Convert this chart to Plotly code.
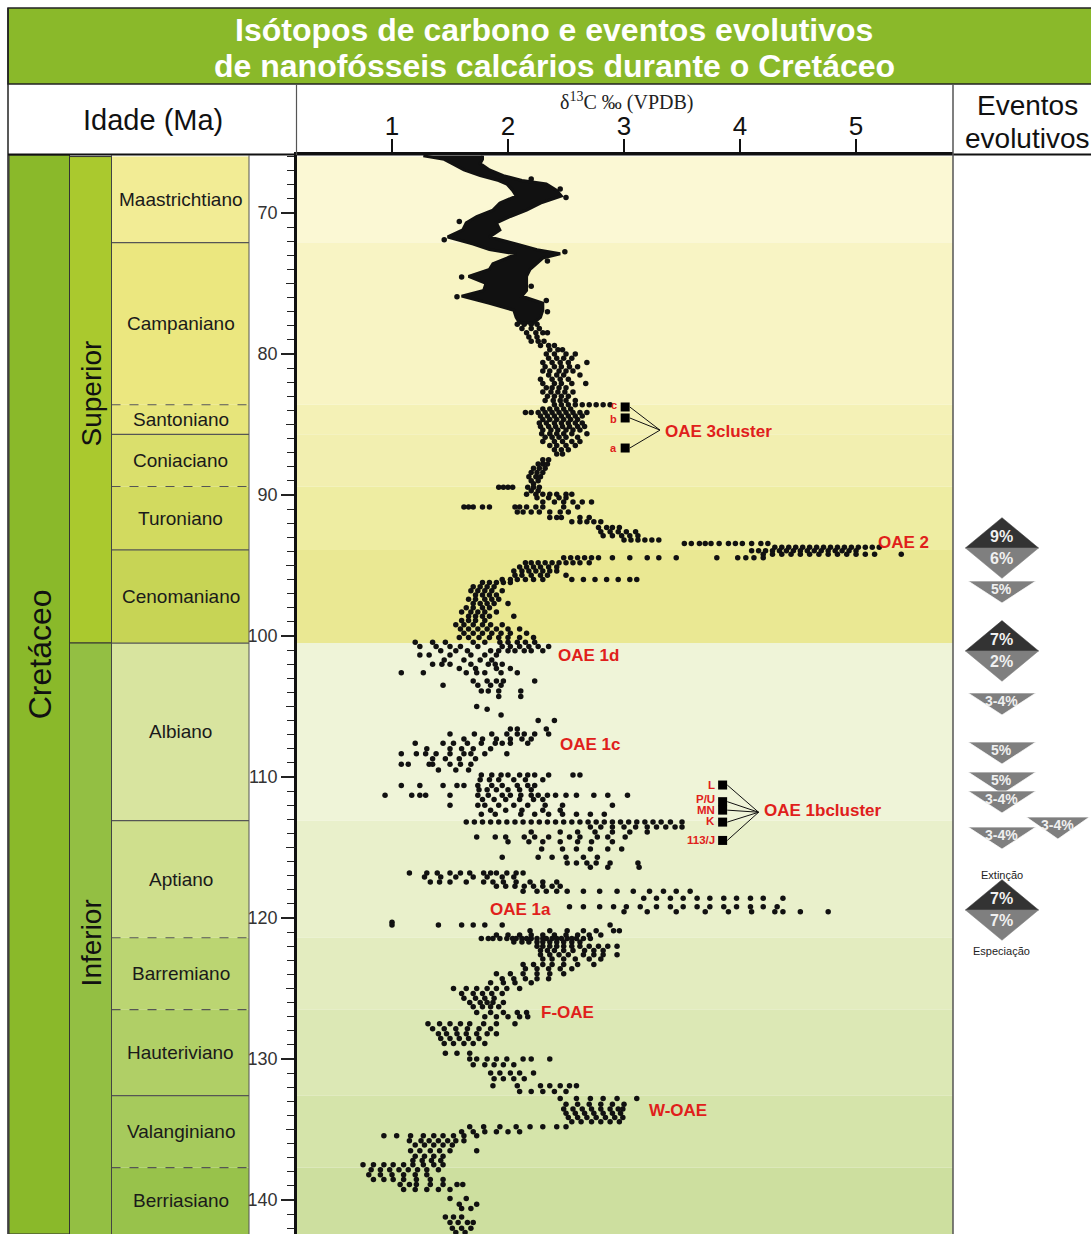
import plotly.graph_objects as go

W, H = 1091, 1234
def PX(x):
    return x / W
def PY(y):
    return 1 - y / H

FONT = "Liberation Sans, Arial, sans-serif"

# ---------------- data ----------------
stage_names = ["Maastrichtiano", "Campaniano", "Santoniano", "Coniaciano", "Turoniano",
               "Cenomaniano", "Albiano", "Aptiano", "Barremiano", "Hauteriviano",
               "Valanginiano", "Berriasiano"]
stage_bounds = [66.0, 72.1, 83.6, 85.7, 89.4, 93.9, 100.5, 113.1, 121.4, 126.5, 132.6, 137.7, 145.0]
boundary_dashed = [False, True, False, True, False, False, False, True, True, False, True]
stage_colors = ["#F2EC95", "#EBE77F", "#E7E57B", "#DADF6C", "#D2DA5F", "#C7D455",
                "#D8E49F", "#CFDF8D", "#BBD572", "#B0CF66", "#A6CA5C", "#98C24B"]
band_colors = ["#FBF8D4", "#F8F4C4", "#F4F1B6", "#F2EFB0", "#EEEDA2", "#EAE893",
               "#EFF4D8", "#E9F0CB", "#E3ECBF", "#DCE8B5", "#D5E4AA", "#CDDF9F"]
subseries_names = ["Superior", "Inferior"]
subseries_bounds = [66.0, 100.5, 145.0]
subseries_colors = ["#AAC92E", "#93BF43"]

age_ticks = [70, 80, 90, 100, 110, 120, 130, 140]
age_mid_ticks = [75, 85, 95, 105, 115, 125, 135]
d13c_ticks = [1, 2, 3, 4, 5]

# dense Maastrichtian-Campanian band (outline)
band_age = [65.95, 66.2, 66.5, 66.95, 67.35, 67.7, 67.95, 68.4, 68.8, 69.3, 69.8, 70.25,
            70.7, 71.2, 71.7, 72.2, 72.6, 72.9, 73.2, 73.6, 74.0, 74.5, 75.0, 75.5,
            75.9, 76.4, 76.9, 77.4, 77.8]
band_left = [1.27, 1.45, 1.52, 1.62, 1.76, 1.92, 1.99, 2.04, 2.07, 1.93, 1.87, 1.73,
             1.64, 1.61, 1.48, 1.70, 1.84, 2.07, 1.99, 1.87, 1.84, 1.66, 1.81, 1.79,
             1.60, 1.84, 2.05, 2.07, 2.10]
band_right = [1.78, 1.78, 1.76, 1.84, 1.96, 2.12, 2.33, 2.42, 2.46, 2.28, 2.16, 2.02,
              1.90, 1.93, 1.84, 2.07, 2.25, 2.45, 2.30, 2.25, 2.19, 2.16, 2.16, 2.16,
              2.12, 2.30, 2.30, 2.28, 2.22]
# scattered dots along the dense band
iso_maastrichtian = [
    (67.6, [2.2]), (68.3, [2.45]), (68.9, [2.5]), (70.6, [1.58]), (71.9, [1.45]),
    (72.75, [2.49]), (73.4, [2.34]), (74.55, [1.6]), (75.2, [2.2]), (75.95, [1.56]),
    (76.2, [2.33]), (77.0, [2.34]),
]

iso_campanian = [
    (77.9, [2.08, 2.14, 2.2, 2.25]), (78.2, [2.12, 2.2, 2.27]), (78.5, [2.16, 2.24, 2.3, 2.34]),
    (78.8, [2.18, 2.25]), (79.1, [2.2, 2.26, 2.31]), (79.4, [2.28, 2.35, 2.4]),
    (79.7, [2.36, 2.43, 2.47]), (80.0, [2.33, 2.4, 2.5, 2.58]), (80.3, [2.35, 2.42, 2.48, 2.55]),
    (80.6, [2.3, 2.38, 2.45, 2.52, 2.68]), (80.9, [2.32, 2.4, 2.46, 2.53, 2.6]),
    (81.2, [2.3, 2.36, 2.44, 2.5, 2.56]), (81.5, [2.35, 2.42, 2.48, 2.62]),
    (81.8, [2.28, 2.38, 2.45, 2.52]), (82.1, [2.3, 2.4, 2.46, 2.55, 2.67]),
    (82.4, [2.33, 2.38, 2.44, 2.5]), (82.7, [2.3, 2.37, 2.43, 2.49, 2.56]),
    (83.0, [2.34, 2.4, 2.46, 2.52]), (83.3, [2.32, 2.39, 2.45, 2.5, 2.58]),
]
iso_santonian = [
    (83.6, [2.4, 2.46, 2.52, 2.58, 2.64, 2.7, 2.76, 2.82, 2.88]),
    (83.9, [2.3, 2.36, 2.42, 2.48, 2.54]),
    (84.15, [2.15, 2.2, 2.26, 2.32, 2.38, 2.44, 2.5, 2.56, 2.62, 2.68]),
    (84.4, [2.28, 2.34, 2.4, 2.46, 2.52, 2.58, 2.64]),
    (84.65, [2.3, 2.36, 2.42, 2.48, 2.54, 2.6]),
    (84.9, [2.27, 2.33, 2.4, 2.46, 2.52, 2.58, 2.64]),
    (85.15, [2.28, 2.35, 2.41, 2.47, 2.53, 2.6, 2.66]),
    (85.4, [2.3, 2.37, 2.43, 2.5, 2.56, 2.62]),
    (85.65, [2.29, 2.36, 2.42, 2.48, 2.55, 2.68]),
    (85.9, [2.32, 2.38, 2.44, 2.5, 2.6]),
    (86.2, [2.3, 2.4, 2.47, 2.55, 2.62]),
    (86.5, [2.36, 2.42, 2.5, 2.58]),
    (86.8, [2.4, 2.46, 2.52]),
    (87.1, [2.42, 2.47]),
]
iso_coniacian = [
    (87.5, [2.3, 2.35]), (87.8, [2.26, 2.3, 2.34]), (88.1, [2.22, 2.27, 2.32]),
    (88.4, [2.2, 2.25, 2.3]), (88.7, [2.18, 2.24, 2.28]), (89.0, [2.2, 2.26]), (89.2, [2.22]),
]
iso_turonian = [
    (89.45, [1.92, 1.96, 2.0, 2.04, 2.17, 2.22, 2.27]),
    (89.7, [2.2, 2.26]),
    (89.95, [2.16, 2.24, 2.3, 2.36, 2.42, 2.5, 2.55]),
    (90.2, [2.25, 2.35, 2.44, 2.5]),
    (90.5, [2.3, 2.4, 2.48, 2.56, 2.64, 2.72]),
    (90.85, [1.62, 1.66, 1.7, 1.78, 1.84, 2.06, 2.1, 2.16, 2.24, 2.3, 2.48, 2.6]),
    (91.2, [2.08, 2.13, 2.2, 2.27, 2.36, 2.45, 2.52]),
    (91.6, [2.36, 2.42, 2.46, 2.62, 2.7]),
    (91.9, [2.55, 2.62, 2.68, 2.74, 2.8]),
    (92.3, [2.78, 2.85, 2.9, 2.96]),
    (92.6, [2.8, 2.88, 2.95, 3.02, 3.1]),
    (92.9, [2.82, 2.9, 2.98, 3.05, 3.12]),
    (93.2, [3.0, 3.06, 3.12, 3.18, 3.24, 3.3]),
    (93.45, [3.52, 3.58, 3.65, 3.7, 3.75, 3.82, 3.9, 3.96, 4.02, 4.1, 4.18, 4.24]),
    (93.7, [4.3, 4.36, 4.42, 4.48, 4.54, 4.6, 4.66, 4.72, 4.78, 4.84, 4.9, 4.96, 5.02, 5.08, 5.14, 5.2]),
]
iso_cenomanian = [
    (93.95, [4.1, 4.16, 4.22, 4.28, 4.34, 4.4, 4.46, 4.52, 4.58, 4.64, 4.7, 4.76, 4.82, 4.88, 4.94, 5.0]),
    (94.2, [4.2, 4.28, 4.36, 4.44, 4.52, 4.6, 4.68, 4.76, 4.84, 4.92, 5.0, 5.08, 5.16, 5.39]),
    (94.45, [2.48, 2.54, 2.6, 2.66, 2.72, 2.78, 2.9, 3.05, 3.2, 3.3, 3.45, 3.8, 3.98, 4.05, 4.12, 4.2]),
    (94.8, [2.15, 2.2, 2.26, 2.32, 2.38, 2.44, 2.5, 2.56, 2.62, 2.7]),
    (95.1, [2.1, 2.16, 2.22, 2.28, 2.35, 2.42]),
    (95.4, [2.05, 2.12, 2.18, 2.24, 2.3, 2.36, 2.42]),
    (95.7, [2.06, 2.12, 2.2, 2.28, 2.34, 2.5]),
    (96.0, [1.95, 2.02, 2.08, 2.15, 2.22, 2.3, 2.55, 2.65, 2.75, 2.85, 2.95, 3.05, 3.11]),
    (96.2, [1.78, 1.84, 1.9, 1.96, 2.02]),
    (96.5, [1.7, 1.76, 1.82, 1.88]),
    (96.8, [1.68, 1.74, 1.8, 1.86, 1.95]),
    (97.1, [1.72, 1.78, 1.84, 1.9]),
    (97.4, [1.66, 1.72, 1.8, 1.86, 1.92]),
    (97.7, [1.7, 1.76, 1.82, 1.88, 2.0]),
    (98.0, [1.64, 1.7, 1.78, 1.84]),
    (98.3, [1.6, 1.68, 1.74, 1.8, 1.9]),
    (98.6, [1.66, 1.72, 1.78, 1.84, 2.05]),
    (98.9, [1.6, 1.66, 1.72, 1.8]),
    (99.2, [1.55, 1.62, 1.7, 1.78, 1.85, 1.95]),
    (99.5, [1.59, 1.66, 1.74, 1.82, 1.9, 2.0, 2.1]),
    (99.8, [1.62, 1.7, 1.78, 1.86, 1.94, 2.02, 2.16]),
    (100.1, [1.58, 1.66, 1.75, 1.84, 1.92, 2.0, 2.1, 2.22]),
]
iso_albian = [
    (100.45, [1.2, 1.35, 1.46, 1.7, 1.8, 1.93, 2.0, 2.08, 2.15, 2.23]),
    (100.75, [1.24, 1.38, 1.5, 1.59, 1.74, 1.95, 2.02, 2.1, 2.18, 2.26, 2.35]),
    (101.05, [1.42, 1.55, 1.65, 1.85, 1.92, 2.0, 2.06, 2.14, 2.2, 2.3]),
    (101.35, [1.24, 1.32, 1.5, 1.68, 1.8, 1.9]),
    (101.7, [1.45, 1.62, 1.76, 1.86]),
    (102.0, [1.35, 1.43, 1.5, 1.68, 1.83, 1.89, 1.95]),
    (102.3, [1.58, 1.72, 1.9, 2.02]),
    (102.6, [1.08, 1.27, 1.64, 1.73, 1.8, 1.94, 2.08]),
    (103.2, [1.7, 1.82, 1.9, 1.96, 2.23]),
    (103.5, [1.44, 1.74, 1.85, 1.94]),
    (103.9, [1.77, 1.83, 1.92, 2.11]),
    (104.3, [1.92, 2.11]),
    (105.0, [1.73]), (105.2, [1.82]), (105.6, [1.94]),
    (106.0, [2.26, 2.4]),
    (106.6, [2.02, 2.08, 2.33]),
    (106.95, [1.5, 1.71, 1.86, 1.99, 2.08, 2.14, 2.23, 2.35]),
    (107.3, [1.62, 1.78, 1.9, 2.02, 2.12, 2.2]),
    (107.6, [1.2, 1.44, 1.53, 1.65, 1.77, 1.89, 1.95, 2.02, 2.17]),
    (108.0, [1.3, 1.5, 1.6, 1.7, 1.85]),
    (108.35, [1.08, 1.21, 1.29, 1.38, 1.5, 1.62, 1.68, 1.8, 1.99]),
    (108.7, [1.35, 1.46, 1.58, 1.72]),
    (109.1, [1.08, 1.14, 1.32, 1.35, 1.5, 1.59, 1.68]),
    (109.5, [1.4, 1.55, 1.66]),
    (109.85, [1.77, 1.86, 1.94, 2.0, 2.1, 2.17, 2.23, 2.35, 2.56, 2.62]),
    (110.2, [1.76, 1.84, 1.92, 2.05, 2.15, 2.3]),
    (110.6, [1.08, 1.24, 1.44, 1.56, 1.62, 1.74, 1.86, 1.95, 2.08, 2.17, 2.23]),
    (110.9, [1.75, 1.82, 1.9, 2.0, 2.1, 2.2]),
    (111.3, [0.94, 1.17, 1.24, 1.29, 1.5, 1.74, 1.83, 1.95, 2.02, 2.11, 2.2, 2.26, 2.34,
             2.41, 2.5, 2.59, 2.74, 2.86, 3.03]),
    (111.6, [1.78, 1.88, 1.98, 2.1, 2.22, 2.3]),
    (112.0, [1.5, 1.74, 1.8, 1.92, 2.05, 2.17, 2.32, 2.47, 2.9]),
    (112.35, [1.85, 1.98, 2.12, 2.3, 2.45]),
    (112.65, [1.77, 1.89, 2.11, 2.23, 2.35, 2.47, 2.59, 2.71, 2.83]),
]
iso_aptian = [
    (113.2, [1.64, 1.71, 1.78, 1.85, 1.92, 1.99, 2.06, 2.13, 2.2, 2.27, 2.34, 2.41, 2.48, 2.55,
             2.62, 2.69, 2.76, 2.83, 2.9, 2.97, 3.04, 3.11, 3.18, 3.25, 3.32, 3.4, 3.5]),
    (113.55, [2.71, 2.8, 2.9, 3.0, 3.1, 3.2, 3.28, 3.36, 3.44, 3.5]),
    (113.9, [2.2, 2.45, 2.6, 2.75, 2.9, 3.05, 3.2]),
    (114.25, [1.73, 1.89, 1.98, 2.14, 2.23, 2.35, 2.53, 2.62, 2.77, 2.86, 3.01]),
    (114.6, [2.0, 2.18, 2.3, 2.45, 2.6, 2.72, 2.9]),
    (115.1, [2.29, 2.47, 2.59, 2.71, 2.86, 2.98]),
    (115.7, [1.95, 2.26, 2.38, 2.5, 2.65, 2.77]),
    (116.1, [2.51, 2.59, 2.68, 2.76, 2.88, 3.12]),
    (116.4, [2.71, 2.86, 3.13]),
    (116.8, [1.15, 1.3, 1.39, 1.5, 1.59, 1.67, 1.79, 1.85, 1.9, 1.99, 2.07, 2.13]),
    (117.1, [1.28, 1.42, 1.55, 1.7, 1.82, 1.95, 2.05]),
    (117.45, [1.33, 1.41, 1.5, 1.64, 1.79, 1.87, 1.96, 2.07, 2.19, 2.3, 2.42]),
    (117.75, [1.9, 1.98, 2.06, 2.14, 2.22, 2.3, 2.38, 2.45]),
    (118.1, [2.13, 2.25, 2.33, 2.42, 2.51, 2.65, 2.79, 2.94, 3.08, 3.22, 3.34, 3.45, 3.57]),
    (118.6, [3.17, 3.28, 3.4, 3.51, 3.63, 3.74, 3.86, 3.97, 4.09, 4.2, 4.37]),
    (119.2, [2.53, 2.65, 2.79, 2.91, 3.02, 3.14, 3.28, 3.4, 3.51, 3.63, 3.74, 3.86, 3.97,
             4.09, 4.2, 4.32]),
    (119.55, [3.0, 3.2, 3.45, 3.7, 3.9, 4.1, 4.3, 4.37, 4.52, 4.76]),
    (120.3, [1.0]),
    (120.5, [1.0, 1.4, 1.6, 1.7, 1.8, 1.95, 2.88]),
    (120.9, [2.19, 2.36, 2.51, 2.65, 2.76, 2.91, 2.96]),
    (121.2, [1.9, 2.0, 2.1, 2.2, 2.3, 2.4, 2.5, 2.6, 2.7, 2.8]),
]
iso_barremian = [
    (121.45, [1.77, 1.83, 1.87, 1.93, 1.99, 2.04, 2.07, 2.12, 2.16, 2.2, 2.25, 2.3, 2.33,
              2.38, 2.42, 2.46, 2.51, 2.55, 2.59, 2.65, 2.71]),
    (121.7, [2.05, 2.12, 2.18, 2.25, 2.3, 2.36, 2.42, 2.48, 2.55, 2.62]),
    (122.0, [2.25, 2.3, 2.36, 2.42, 2.48, 2.55, 2.62, 2.7, 2.78, 2.86, 2.94]),
    (122.3, [2.28, 2.34, 2.4, 2.48, 2.56, 2.66, 2.74, 2.82]),
    (122.6, [2.28, 2.36, 2.44, 2.52, 2.65, 2.74, 2.82, 2.94]),
    (122.9, [2.3, 2.38, 2.48, 2.58, 2.7, 2.8]),
    (123.3, [2.13, 2.22, 2.3, 2.38, 2.48, 2.6, 2.74]),
    (123.6, [2.15, 2.25, 2.35, 2.45, 2.55]),
    (123.95, [1.9, 2.02, 2.13, 2.25, 2.36, 2.48]),
    (124.3, [1.95, 2.05, 2.15, 2.25, 2.35]),
    (124.6, [1.85, 1.96, 2.06, 2.2]),
    (125.0, [1.53, 1.64, 1.73, 1.82, 1.9, 1.99, 2.1]),
    (125.35, [1.6, 1.7, 1.78, 1.86, 1.95]),
    (125.7, [1.62, 1.72, 1.8, 1.88]),
    (126.0, [1.67, 1.76, 1.82, 1.87, 1.96]),
    (126.3, [1.7, 1.78, 1.85, 1.92]),
]
iso_hauterivian = [
    (126.7, [1.73, 1.85, 1.96, 2.08, 2.16]),
    (127.0, [1.8, 1.9, 2.0, 2.1, 2.17]),
    (127.5, [1.31, 1.41, 1.5, 1.59, 1.67, 1.79, 1.9, 2.06]),
    (127.85, [1.35, 1.45, 1.55, 1.65, 1.75, 1.85]),
    (128.2, [1.4, 1.47, 1.56, 1.64, 1.73, 1.82, 1.9]),
    (128.55, [1.42, 1.5, 1.58, 1.66, 1.75]),
    (128.9, [1.45, 1.53, 1.62, 1.7, 1.8]),
    (129.6, [1.46, 1.56, 1.67]),
    (130.0, [1.67, 1.73, 1.82, 1.9, 1.99, 2.13, 2.2, 2.36]),
    (130.4, [1.7, 1.8, 1.88, 1.96, 2.05]),
    (131.0, [1.85, 1.93, 2.02, 2.1, 2.22]),
    (131.4, [1.88, 1.96, 2.05, 2.14]),
    (131.9, [1.87, 2.08, 2.28, 2.36, 2.45, 2.53, 2.59]),
    (132.3, [2.1, 2.2, 2.3, 2.4, 2.5]),
]
iso_valanginian = [
    (132.8, [2.45, 2.59, 2.71, 2.82, 2.94, 3.11]),
    (133.2, [2.5, 2.6, 2.7, 2.8, 2.9, 3.0]),
    (133.55, [2.48, 2.56, 2.64, 2.72, 2.8, 2.88, 2.95, 2.99]),
    (133.85, [2.5, 2.58, 2.66, 2.74, 2.82, 2.9, 2.97]),
    (134.15, [2.52, 2.6, 2.68, 2.76, 2.84, 2.92, 2.99]),
    (134.45, [2.55, 2.63, 2.72, 2.8, 2.88, 2.96]),
    (134.8, [1.67, 1.79, 1.93, 2.07, 2.19, 2.3, 2.42, 2.5]),
    (135.15, [1.6, 1.7, 1.8, 1.9, 2.0, 2.1]),
    (135.45, [0.93, 1.04, 1.16, 1.27, 1.36, 1.44, 1.53, 1.62, 1.73]),
    (135.8, [1.15, 1.25, 1.32, 1.4, 1.48, 1.55, 1.62]),
    (136.1, [1.2, 1.28, 1.36, 1.44, 1.52]),
    (136.5, [1.16, 1.24, 1.33, 1.41, 1.5, 1.73]),
    (136.9, [1.2, 1.28, 1.36, 1.44]),
    (137.2, [1.18, 1.26, 1.34, 1.42]),
    (137.5, [0.75, 0.84, 0.93, 1.01, 1.1, 1.18, 1.27, 1.36, 1.44]),
]
iso_berriasian = [
    (137.85, [0.82, 0.9, 0.98, 1.06, 1.14, 1.22, 1.3, 1.4]),
    (138.2, [0.8, 0.9, 1.0, 1.1, 1.2, 1.3]),
    (138.55, [0.84, 0.93, 1.01, 1.1, 1.21, 1.33, 1.44]),
    (138.9, [1.07, 1.15, 1.21, 1.33, 1.44, 1.56, 1.61]),
    (139.25, [1.1, 1.2, 1.3, 1.4, 1.5]),
    (139.9, [1.5, 1.64]), (140.3, [1.58, 1.73]), (140.6, [1.6, 1.68]),
    (141.2, [1.46, 1.53, 1.6]), (141.6, [1.5, 1.57, 1.65, 1.7]),
    (142.0, [1.52, 1.6, 1.68]), (142.3, [1.55, 1.63]),
]

# OAE markers
oae3_labels = ["c", "b", "a"]
oae3_age = [83.76, 84.54, 86.67]
oae3_label_age = [83.62, 84.6, 86.67]
oae3_d13c = 3.01
oae3_join = (3.31, 85.4)
oae1b_labels = ["L", "P/U", "MN", "K", "113/J"]
oae1b_age = [110.57, 111.75, 112.35, 113.2, 114.5]
oae1b_label_age = [110.55, 111.55, 112.35, 113.15, 114.5]
oae1b_d13c = 3.85
oae1b_join = (4.16, 112.5)
oae_names = ["OAE 3cluster", "OAE 2", "OAE 1d", "OAE 1c", "OAE 1bcluster", "OAE 1a", "F-OAE", "W-OAE"]
oae_name_d13c = [3.34, 5.17, 2.41, 2.43, 4.19, 1.83, 2.27, 3.2]
oae_name_age = [85.53, 93.4, 101.35, 107.73, 112.41, 119.43, 126.67, 133.62]

# evolutionary events (extinction over speciation)
ev_diamond_mid = [93.76, 101.06, 119.43]
ev_diamond_ext = ["9%", "7%", "7%"]
ev_diamond_spe = ["6%", "2%", "7%"]
ev_tri_top = [96.1, 104.04, 107.52, 109.65, 110.99, 112.84, 113.55]
ev_tri_label = ["5%", "3-4%", "5%", "5%", "3-4%", "3-4%", "3-4%"]
ev_tri_col = [0, 0, 0, 0, 0, 1, 0]

# ---------------- figure ----------------
fig = go.Figure()
XR = [0.181, 5.836]
YR = [142.41, 65.89]

def txt(**kw):
    d = dict(showarrow=False, xanchor="center", yanchor="middle")
    d.update(kw)
    return d

# isotope band and points
fig.add_trace(go.Scatter(x=band_left + band_right[::-1], y=band_age + band_age[::-1],
                         fill="toself", fillcolor="#111111", mode="lines",
                         line=dict(color="#111111", width=3), hoverinfo="skip", showlegend=False))
xs, ys = [], []
for seg in [iso_maastrichtian, iso_campanian, iso_santonian, iso_coniacian, iso_turonian,
            iso_cenomanian, iso_albian, iso_aptian, iso_barremian, iso_hauterivian,
            iso_valanginian, iso_berriasian]:
    for age, vals in seg:
        for v in vals:
            xs.append(v)
            ys.append(age)
fig.add_trace(go.Scatter(x=xs, y=ys, mode="markers",
                         marker=dict(size=5.5, color="#111111"), showlegend=False))

# OAE connector lines
lx, ly = [], []
for a in oae3_age:
    lx += [oae3_d13c + 0.04, oae3_join[0], None]
    ly += [a, oae3_join[1], None]
for a in oae1b_age:
    lx += [oae1b_d13c + 0.04, oae1b_join[0], None]
    ly += [a, oae1b_join[1], None]
fig.add_trace(go.Scatter(x=lx, y=ly, mode="lines", line=dict(color="#111111", width=1),
                         showlegend=False))
fig.add_trace(go.Scatter(x=[oae3_d13c] * len(oae3_age) + [oae1b_d13c] * len(oae1b_age),
                         y=oae3_age + oae1b_age, mode="markers",
                         marker=dict(symbol="square", size=9, color="#000000"), showlegend=False))

# events panel (x3)
XC = [0.355, 0.76]
DHW, DHH = 0.265, 2.15
THW = [0.245, 0.228]
THH = 1.56
DARK, GRAY = "#333333", "#7f7f7f"
for mid in ev_diamond_mid:
    fig.add_trace(go.Scatter(x=[XC[0] - DHW, XC[0], XC[0] + DHW, XC[0] - DHW],
                             y=[mid, mid - DHH, mid, mid], fill="toself", fillcolor=DARK,
                             mode="lines", line=dict(width=0.5, color=DARK), xaxis="x3", yaxis="y",
                             showlegend=False, hoverinfo="skip"))
    fig.add_trace(go.Scatter(x=[XC[0] - DHW, XC[0] + DHW, XC[0], XC[0] - DHW],
                             y=[mid, mid, mid + DHH, mid], fill="toself", fillcolor=GRAY,
                             mode="lines", line=dict(width=0.5, color=GRAY), xaxis="x3", yaxis="y",
                             showlegend=False, hoverinfo="skip"))
for top, col in zip(ev_tri_top, ev_tri_col):
    c, hw = XC[col], THW[col]
    fig.add_trace(go.Scatter(x=[c - hw, c + hw, c, c - hw], y=[top, top, top + THH, top],
                             fill="toself", fillcolor=GRAY, mode="lines",
                             line=dict(width=1, color="rgba(255,255,255,0.7)"), xaxis="x3", yaxis="y",
                             showlegend=False, hoverinfo="skip"))

shapes = []
ann = []

# plot background bands (per stage)
for i in range(len(stage_names)):
    shapes.append(dict(type="rect", xref="x domain", yref="y", x0=0, x1=1,
                       y0=stage_bounds[i], y1=stage_bounds[i + 1], fillcolor=band_colors[i],
                       line=dict(width=0), layer="below"))

# title bar and frame
shapes.append(dict(type="rect", xref="paper", yref="paper", x0=PX(8), x1=1.01, y0=PY(84), y1=PY(8),
                   fillcolor="#8AB92A", line=dict(color="#222", width=1.5), layer="below"))
shapes.append(dict(type="line", xref="paper", yref="paper", x0=PX(8), x1=PX(8), y0=0, y1=PY(8),
                   line=dict(color="#222", width=1.5)))
shapes.append(dict(type="line", xref="paper", yref="paper", x0=PX(8), x1=1, y0=PY(154.5), y1=PY(154.5),
                   line=dict(color="#111", width=2)))
shapes.append(dict(type="line", xref="paper", yref="paper", x0=PX(296.5), x1=PX(296.5), y0=PY(155), y1=PY(84),
                   line=dict(color="#555", width=1.2)))
shapes.append(dict(type="line", xref="paper", yref="paper", x0=PX(953), x1=PX(953), y0=0, y1=PY(84),
                   line=dict(color="#555", width=1.5)))

# chronostratigraphic column
shapes.append(dict(type="rect", xref="paper", yref="paper", x0=PX(9), x1=PX(69.5), y0=0, y1=PY(155),
                   fillcolor="#8AB92A", line=dict(color="#333", width=1), layer="below"))
for i, nm in enumerate(subseries_names):
    shapes.append(dict(type="rect", xref="paper", yref="y", x0=PX(69.5), x1=PX(111.5),
                       y0=subseries_bounds[i], y1=subseries_bounds[i + 1],
                       fillcolor=subseries_colors[i], line=dict(color="#333", width=1), layer="below"))
for i, nm in enumerate(stage_names):
    shapes.append(dict(type="rect", xref="paper", yref="y", x0=PX(111.5), x1=PX(249),
                       y0=stage_bounds[i], y1=stage_bounds[i + 1],
                       fillcolor=stage_colors[i], line=dict(width=0), layer="below"))
    lo = stage_bounds[i]
    hi = min(stage_bounds[i + 1], YR[0])
    ann.append(txt(xref="paper", yref="y", x=PX(180.5), y=(lo + hi) / 2, text=nm,
                   font=dict(family=FONT, size=19, color="#1a1a1a")))
for j, b in enumerate(stage_bounds[1:-1]):
    shapes.append(dict(type="line", xref="paper", yref="y", x0=PX(111.5), x1=PX(249), y0=b, y1=b,
                       line=dict(color="#555", width=1.2, dash="dash" if boundary_dashed[j] else "solid")))
shapes.append(dict(type="line", xref="paper", yref="paper", x0=PX(249), x1=PX(249), y0=0, y1=PY(155),
                   line=dict(color="#555", width=1)))
shapes.append(dict(type="line", xref="paper", yref="paper", x0=PX(111.5), x1=PX(111.5), y0=0, y1=PY(155),
                   line=dict(color="#444", width=1)))

ann.append(txt(xref="paper", yref="y", x=PX(40), y=101.3, text="Cretáceo", textangle=-90,
               font=dict(family=FONT, size=32, color="#111")))
ann.append(txt(xref="paper", yref="y", x=PX(91), y=82.8, text="Superior", textangle=-90,
               font=dict(family=FONT, size=28, color="#111")))
ann.append(txt(xref="paper", yref="y", x=PX(91), y=121.8, text="Inferior", textangle=-90,
               font=dict(family=FONT, size=28, color="#111")))

# titles / headers
ann.append(txt(xref="paper", yref="paper", x=PX(554), y=PY(30),
               text="<b>Isótopos de carbono e eventos evolutivos</b>",
               font=dict(family=FONT, size=32, color="white")))
ann.append(txt(xref="paper", yref="paper", x=PX(554), y=PY(66),
               text="<b>de nanofósseis calcários durante o Cretáceo</b>",
               font=dict(family=FONT, size=32, color="white")))
ann.append(txt(xref="paper", yref="paper", x=PX(153), y=PY(120), text="Idade (Ma)",
               font=dict(family=FONT, size=29, color="#111")))
ann.append(txt(xref="paper", yref="paper", x=PX(1027), y=PY(106), text="Eventos",
               font=dict(family=FONT, size=28, color="#111")))
ann.append(txt(xref="paper", yref="paper", x=PX(1027), y=PY(138), text="evolutivos",
               font=dict(family=FONT, size=28, color="#111")))
ann.append(txt(xref="paper", yref="paper", x=PX(626), y=PY(101), text="δ<sup>13</sup>C ‰ (VPDB)",
               font=dict(family="Liberation Serif, Times New Roman, serif", size=20, color="#222")))

# OAE labels
RED = "#E0201B"
for nm, xv, yv in zip(oae_names, oae_name_d13c, oae_name_age):
    ann.append(txt(xref="x", yref="y", x=xv, y=yv, text="<b>" + nm + "</b>", xanchor="left",
                   font=dict(family=FONT, size=17, color=RED)))
for lb, a in zip(oae3_labels, oae3_label_age):
    ann.append(txt(xref="x", yref="y", x=oae3_d13c - 0.05, y=a, text="<b>" + lb + "</b>", xanchor="right",
                   font=dict(family=FONT, size=11, color=RED)))
for lb, a in zip(oae1b_labels, oae1b_label_age):
    ann.append(txt(xref="x", yref="y", x=oae1b_d13c - 0.05, y=a, text="<b>" + lb + "</b>", xanchor="right",
                   font=dict(family=FONT, size=11.5, color=RED)))

# event labels
for mid, e, s in zip(ev_diamond_mid, ev_diamond_ext, ev_diamond_spe):
    ann.append(txt(xref="x3", yref="y", x=XC[0], y=mid - 0.8, text="<b>" + e + "</b>",
                   font=dict(family=FONT, size=16, color="#f0f0f0")))
    ann.append(txt(xref="x3", yref="y", x=XC[0], y=mid + 0.75, text="<b>" + s + "</b>",
                   font=dict(family=FONT, size=16, color="#f0f0f0")))
for top, lb, col in zip(ev_tri_top, ev_tri_label, ev_tri_col):
    ann.append(txt(xref="x3", yref="y", x=XC[col], y=top + 0.55, text="<b>" + lb + "</b>",
                   font=dict(family=FONT, size=14, color="#f0f0f0")))
ann.append(txt(xref="x3", yref="y", x=XC[0], y=116.95, text="Extinção",
               font=dict(family=FONT, size=11, color="#222")))
ann.append(txt(xref="x3", yref="y", x=XC[0], y=122.34, text="Especiação",
               font=dict(family=FONT, size=11, color="#222")))

fig.update_layout(
    width=W, height=H, margin=dict(l=0, r=0, t=0, b=0),
    paper_bgcolor="white", plot_bgcolor="rgba(0,0,0,0)",
    shapes=shapes, annotations=ann, showlegend=False,
    xaxis=dict(domain=[PX(297), PX(953)], range=XR, side="top", tickvals=d13c_ticks,
               ticks="outside", ticklen=13, tickwidth=1.5, tickcolor="#111", ticklabelstandoff=-6,
               tickfont=dict(family=FONT, size=26, color="#111"), showline=True, linewidth=2.5,
               linecolor="#111", showgrid=False, zeroline=False, anchor="y"),
    yaxis=dict(domain=[0, PY(155)], range=YR, tickvals=age_ticks, ticks="outside", ticklen=13,
               tickwidth=1.5, tickcolor="#222", tickfont=dict(family=FONT, size=18, color="#333"),
               showline=True, linewidth=2.5, linecolor="#111", showgrid=False, zeroline=False,
               anchor="x",
               minor=dict(tickmode="linear", tick0=0, dtick=1, ticks="outside", ticklen=7,
                          tickwidth=1.2, tickcolor="#222", showgrid=False)),
    yaxis2=dict(domain=[0, PY(155)], range=YR, overlaying="y", side="left", anchor="x",
                tickvals=age_mid_ticks, ticks="outside", ticklen=10, tickwidth=1.3, tickcolor="#222",
                showticklabels=False, showgrid=False, zeroline=False, showline=False),
    xaxis3=dict(domain=[PX(953), 1], range=[0, 1], anchor="y", visible=False, fixedrange=True),
)
fig.add_trace(go.Scatter(x=[None], y=[None], yaxis="y2", showlegend=False))

fig.write_html("out.html", config={"displayModeBar": False},
               post_script="document.body.style.margin='0px';document.body.style.overflow='hidden';")
